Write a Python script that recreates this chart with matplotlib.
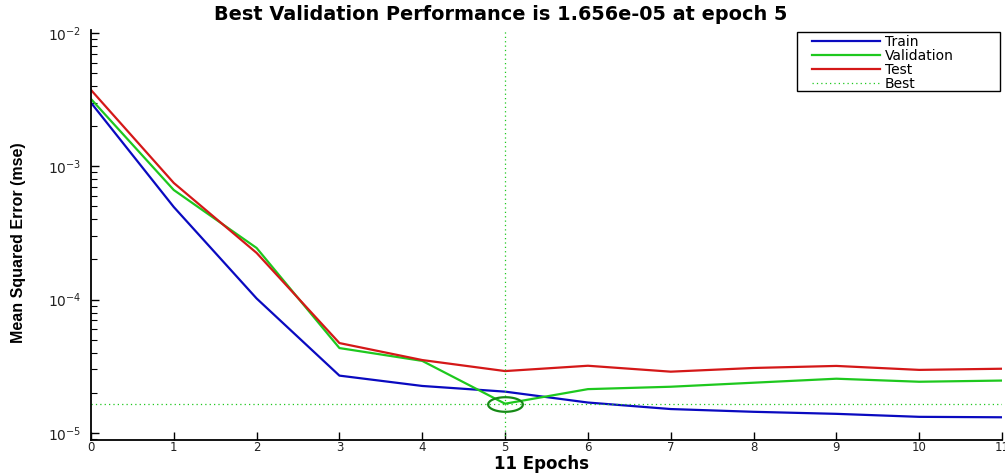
import matplotlib
matplotlib.use("Agg")
import matplotlib.pyplot as plt
import numpy as np
from matplotlib.path import Path
from matplotlib.patches import Rectangle

# Training record (mean squared error per epoch)
epochs = [0, 1, 2, 3, 4, 5, 6, 7, 8, 9, 10, 11]
train_mse = [3.0e-3, 4.95e-4, 1.02e-4, 2.69e-5, 2.25e-5, 2.04e-5, 1.69e-5,
             1.51e-5, 1.44e-5, 1.39e-5, 1.32e-5, 1.31e-5]
val_mse = [3.2e-3, 6.64e-4, 2.44e-4, 4.33e-5, 3.47e-5, 1.656e-5, 2.13e-5,
           2.22e-5, 2.38e-5, 2.55e-5, 2.42e-5, 2.47e-5]
test_mse = [3.74e-3, 7.5e-4, 2.24e-4, 4.72e-5, 3.52e-5, 2.91e-5, 3.19e-5,
            2.88e-5, 3.07e-5, 3.18e-5, 2.97e-5, 3.03e-5]
best_epoch = 5
best_val = 1.656e-5
n_epochs = 11
x_ticks = list(range(0, 12))

plt.rcParams['font.family'] = ['DejaVu Sans']
plt.rcParams['mathtext.default'] = 'regular'

fig = plt.figure(figsize=(10.05, 4.73), dpi=100)
ax = fig.add_axes([0.0905, 0.0698, 0.9065, 0.8668])

blue = '#0a0ac0'
green = '#1ec81e'
red = '#d41818'

ax.plot(epochs, train_mse, color=blue, lw=1.6, label='Train')
ax.plot(epochs, val_mse, color=green, lw=1.6, label='Validation')
ax.plot(epochs, test_mse, color=red, lw=1.6, label='Test')
ax.set_yscale('log')
ax.set_xlim(0, n_epochs)
ax.set_ylim(8.85e-6, 1.053e-2)

# best-epoch guide lines
ax.axvline(best_epoch, color=green, lw=0.9, ls=(0, (1, 2.5)), label='Best')
ax.axhline(best_val, color=green, lw=0.9, ls=(0, (1, 2.5)))

# flattened circle around the best validation point
t = np.linspace(0, 2 * np.pi, 60)
ellipse = Path(np.column_stack([np.cos(t), 0.42 * np.sin(t)]), closed=True)
ax.plot([best_epoch], [best_val], marker=ellipse, ms=25, mfc='none',
        mec='#168a16', mew=1.6, ls='none')

ax.set_xticks(x_ticks)
ax.tick_params(axis='both', which='both', direction='in', labelsize=8.5,
               labelcolor='#222222')
ax.tick_params(axis='both', which='major', length=6, width=1)
ax.tick_params(axis='y', which='minor', length=4, width=0.8)
ax.tick_params(axis='y', which='major', pad=7, labelsize=10)
ax.tick_params(axis='x', pad=1)
for side in ('top', 'right'):
    ax.spines[side].set_visible(False)
for side in ('left', 'bottom'):
    ax.spines[side].set_linewidth(1.3)

ax.set_xlabel('11 Epochs', fontsize=12, fontweight='bold', va='bottom')
ax.xaxis.set_label_coords(0.495, -0.08)
ax.set_ylabel('Mean Squared Error (mse)', fontsize=11.5, fontweight='bold',
              family=['Liberation Sans Narrow', 'Liberation Sans'], va='center')
ax.yaxis.set_label_coords(-0.079, 0.48)

fig.text(0.4985, 0.970, 'Best Validation Performance is 1.656e-05 at epoch 5',
         ha='center', va='center', fontsize=13.85, fontweight='bold')

# legend box, then the entries placed inside it
ax.add_patch(Rectangle((0.775, 0.851), 0.223, 0.144, transform=ax.transAxes,
                       facecolor='white', edgecolor='black', lw=1.0, zorder=4))
leg = ax.legend(loc='upper left', bbox_to_anchor=(0.7914, 0.987),
                fontsize=10, frameon=False, handlelength=4.9,
                handletextpad=0.36, labelspacing=0.0, borderpad=0,
                borderaxespad=0)
leg.set_zorder(5)

fig.savefig('out.png', dpi=100)
